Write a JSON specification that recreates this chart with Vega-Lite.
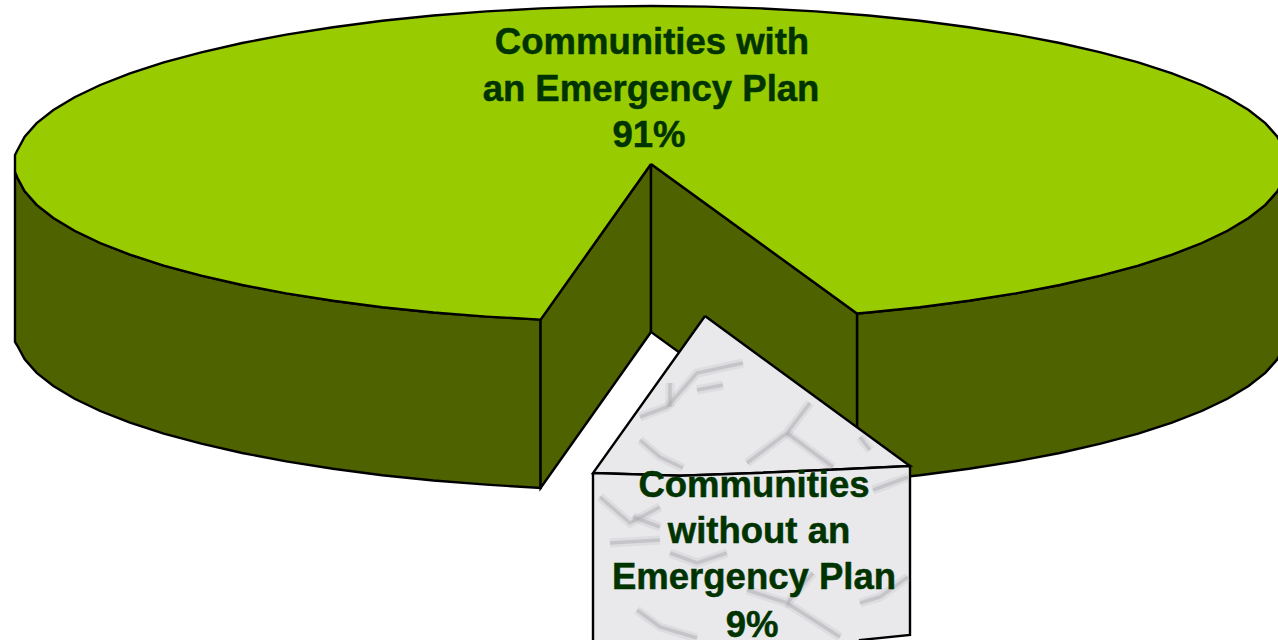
{"$schema":"https://vega.github.io/schema/vega-lite/v6.json","width":1278,"height":640,"padding":0,"autosize":{"type":"none"},"background":"white","view":{"stroke":null},
"datasets":{"shapes":[
{"part":"wallL","n":1,"x":15,"y":172},{"part":"wallL","n":2,"x":17.4,"y":177.8},{"part":"wallL","n":3,"x":24.7,"y":191.4},{"part":"wallL","n":4,"x":36.7,"y":204.9},{"part":"wallL","n":5,"x":53.4,"y":218},{"part":"wallL","n":6,"x":74.6,"y":230.8},{"part":"wallL","n":7,"x":100.2,"y":243},{"part":"wallL","n":8,"x":130,"y":254.6},{"part":"wallL","n":9,"x":163.8,"y":265.6},{"part":"wallL","n":10,"x":201.3,"y":275.7},{"part":"wallL","n":11,"x":242.2,"y":285},{"part":"wallL","n":12,"x":286.2,"y":293.4},{"part":"wallL","n":13,"x":333,"y":300.8},{"part":"wallL","n":14,"x":382.2,"y":307.2},{"part":"wallL","n":15,"x":433.5,"y":312.5},{"part":"wallL","n":16,"x":486.4,"y":316.6},{"part":"wallL","n":17,"x":540.6,"y":319.6},{"part":"wallL","n":18,"x":540.6,"y":488},{"part":"wallL","n":19,"x":486.4,"y":484.6},{"part":"wallL","n":20,"x":433.5,"y":480.5},{"part":"wallL","n":21,"x":382.2,"y":475.2},{"part":"wallL","n":22,"x":333,"y":468.8},{"part":"wallL","n":23,"x":286.2,"y":461.4},{"part":"wallL","n":24,"x":242.2,"y":453},{"part":"wallL","n":25,"x":201.3,"y":443.7},{"part":"wallL","n":26,"x":163.8,"y":433.6},{"part":"wallL","n":27,"x":130,"y":422.6},{"part":"wallL","n":28,"x":100.2,"y":411},{"part":"wallL","n":29,"x":74.6,"y":398.8},{"part":"wallL","n":30,"x":53.4,"y":386},{"part":"wallL","n":31,"x":36.7,"y":372.9},{"part":"wallL","n":32,"x":24.7,"y":359.4},{"part":"wallL","n":33,"x":17.4,"y":345.8},{"part":"wallL","n":34,"x":15,"y":342},{"part":"wallL","n":35,"x":15,"y":172},
{"part":"wallR","n":1,"x":857,"y":313.5},{"part":"wallR","n":2,"x":868.5,"y":312.5},{"part":"wallR","n":3,"x":919.8,"y":307.2},{"part":"wallR","n":4,"x":969,"y":300.8},{"part":"wallR","n":5,"x":1015.8,"y":293.4},{"part":"wallR","n":6,"x":1059.8,"y":285},{"part":"wallR","n":7,"x":1100.7,"y":275.7},{"part":"wallR","n":8,"x":1138.2,"y":265.6},{"part":"wallR","n":9,"x":1172,"y":254.6},{"part":"wallR","n":10,"x":1201.8,"y":243},{"part":"wallR","n":11,"x":1227.4,"y":230.8},{"part":"wallR","n":12,"x":1248.6,"y":218},{"part":"wallR","n":13,"x":1265.3,"y":204.9},{"part":"wallR","n":14,"x":1277.3,"y":191.4},{"part":"wallR","n":15,"x":1284.6,"y":177.8},{"part":"wallR","n":16,"x":1287,"y":164},{"part":"wallR","n":17,"x":1287,"y":332},{"part":"wallR","n":18,"x":1284.6,"y":345.8},{"part":"wallR","n":19,"x":1277.3,"y":359.4},{"part":"wallR","n":20,"x":1265.3,"y":372.9},{"part":"wallR","n":21,"x":1248.6,"y":386},{"part":"wallR","n":22,"x":1227.4,"y":398.8},{"part":"wallR","n":23,"x":1201.8,"y":411},{"part":"wallR","n":24,"x":1172,"y":422.6},{"part":"wallR","n":25,"x":1138.2,"y":433.6},{"part":"wallR","n":26,"x":1100.7,"y":443.7},{"part":"wallR","n":27,"x":1059.8,"y":453},{"part":"wallR","n":28,"x":1015.8,"y":461.4},{"part":"wallR","n":29,"x":969,"y":468.8},{"part":"wallR","n":30,"x":919.8,"y":475.2},{"part":"wallR","n":31,"x":868.5,"y":480.5},{"part":"wallR","n":32,"x":857,"y":481.5},{"part":"wallR","n":33,"x":857,"y":313.5},
{"part":"innerL","n":1,"x":651,"y":164},{"part":"innerL","n":2,"x":540.6,"y":319.6},{"part":"innerL","n":3,"x":540.6,"y":488},{"part":"innerL","n":4,"x":651,"y":332},{"part":"innerL","n":5,"x":651,"y":164},
{"part":"innerR","n":1,"x":651,"y":164},{"part":"innerR","n":2,"x":857,"y":313.5},{"part":"innerR","n":3,"x":857,"y":481.5},{"part":"innerR","n":4,"x":651,"y":332},{"part":"innerR","n":5,"x":651,"y":164},
{"part":"top","n":1,"x":651,"y":164},{"part":"top","n":2,"x":857,"y":313.5},{"part":"top","n":3,"x":868.5,"y":312.5},{"part":"top","n":4,"x":919.8,"y":307.2},{"part":"top","n":5,"x":969,"y":300.8},{"part":"top","n":6,"x":1015.8,"y":293.4},{"part":"top","n":7,"x":1059.8,"y":285},{"part":"top","n":8,"x":1100.7,"y":275.7},{"part":"top","n":9,"x":1138.2,"y":265.6},{"part":"top","n":10,"x":1172,"y":254.6},{"part":"top","n":11,"x":1201.8,"y":243},{"part":"top","n":12,"x":1227.4,"y":230.8},{"part":"top","n":13,"x":1248.6,"y":218},{"part":"top","n":14,"x":1265.3,"y":204.9},{"part":"top","n":15,"x":1277.3,"y":191.4},{"part":"top","n":16,"x":1284.6,"y":177.8},{"part":"top","n":17,"x":1287,"y":164},{"part":"top","n":18,"x":1284.6,"y":150.2},{"part":"top","n":19,"x":1277.3,"y":136.6},{"part":"top","n":20,"x":1265.3,"y":123.1},{"part":"top","n":21,"x":1248.6,"y":110},{"part":"top","n":22,"x":1227.4,"y":97.2},{"part":"top","n":23,"x":1201.8,"y":85},{"part":"top","n":24,"x":1172,"y":73.4},{"part":"top","n":25,"x":1138.2,"y":62.4},{"part":"top","n":26,"x":1100.7,"y":52.3},{"part":"top","n":27,"x":1059.8,"y":43},{"part":"top","n":28,"x":1015.8,"y":34.6},{"part":"top","n":29,"x":969,"y":27.2},{"part":"top","n":30,"x":919.8,"y":20.8},{"part":"top","n":31,"x":868.5,"y":15.5},{"part":"top","n":32,"x":815.6,"y":11.4},{"part":"top","n":33,"x":761.4,"y":8.4},{"part":"top","n":34,"x":706.5,"y":6.6},{"part":"top","n":35,"x":651,"y":6},{"part":"top","n":36,"x":595.5,"y":6.6},{"part":"top","n":37,"x":540.6,"y":8.4},{"part":"top","n":38,"x":486.4,"y":11.4},{"part":"top","n":39,"x":433.5,"y":15.5},{"part":"top","n":40,"x":382.2,"y":20.8},{"part":"top","n":41,"x":333,"y":27.2},{"part":"top","n":42,"x":286.2,"y":34.6},{"part":"top","n":43,"x":242.2,"y":43},{"part":"top","n":44,"x":201.3,"y":52.3},{"part":"top","n":45,"x":163.8,"y":62.4},{"part":"top","n":46,"x":130,"y":73.4},{"part":"top","n":47,"x":100.2,"y":85},{"part":"top","n":48,"x":74.6,"y":97.2},{"part":"top","n":49,"x":53.4,"y":110},{"part":"top","n":50,"x":36.7,"y":123.1},{"part":"top","n":51,"x":24.7,"y":136.6},{"part":"top","n":52,"x":17.4,"y":150.2},{"part":"top","n":53,"x":15,"y":155},{"part":"top","n":54,"x":15,"y":172},{"part":"top","n":55,"x":17.4,"y":177.8},{"part":"top","n":56,"x":24.7,"y":191.4},{"part":"top","n":57,"x":36.7,"y":204.9},{"part":"top","n":58,"x":53.4,"y":218},{"part":"top","n":59,"x":74.6,"y":230.8},{"part":"top","n":60,"x":100.2,"y":243},{"part":"top","n":61,"x":130,"y":254.6},{"part":"top","n":62,"x":163.8,"y":265.6},{"part":"top","n":63,"x":201.3,"y":275.7},{"part":"top","n":64,"x":242.2,"y":285},{"part":"top","n":65,"x":286.2,"y":293.4},{"part":"top","n":66,"x":333,"y":300.8},{"part":"top","n":67,"x":382.2,"y":307.2},{"part":"top","n":68,"x":433.5,"y":312.5},{"part":"top","n":69,"x":486.4,"y":316.6},{"part":"top","n":70,"x":540.6,"y":319.6},{"part":"top","n":71,"x":651,"y":164},
{"part":"marbleTop","n":1,"x":705,"y":316},{"part":"marbleTop","n":2,"x":910,"y":466},{"part":"marbleTop","n":3,"x":847,"y":469},{"part":"marbleTop","n":4,"x":757,"y":473},{"part":"marbleTop","n":5,"x":680,"y":475.7},{"part":"marbleTop","n":6,"x":593,"y":473},{"part":"marbleTop","n":7,"x":705,"y":316},
{"part":"marbleFront","n":1,"x":593,"y":473},{"part":"marbleFront","n":2,"x":680,"y":475.7},{"part":"marbleFront","n":3,"x":757,"y":473},{"part":"marbleFront","n":4,"x":847,"y":469},{"part":"marbleFront","n":5,"x":910,"y":466},{"part":"marbleFront","n":6,"x":910,"y":635},{"part":"marbleFront","n":7,"x":860,"y":640},{"part":"marbleFront","n":8,"x":860,"y":645},{"part":"marbleFront","n":9,"x":593,"y":645},{"part":"marbleFront","n":10,"x":593,"y":473}
],
"veins":[
{"vein":"a","n":1,"x":640,"y":417},{"vein":"a","n":2,"x":667,"y":407},{"vein":"a","n":3,"x":697,"y":373},{"vein":"a","n":4,"x":743,"y":363},
{"vein":"b","n":1,"x":670,"y":383},{"vein":"b","n":2,"x":670,"y":407},
{"vein":"c","n":1,"x":697,"y":390},{"vein":"c","n":2,"x":723,"y":385},
{"vein":"d","n":1,"x":640,"y":440},{"vein":"d","n":2,"x":660,"y":457},{"vein":"d","n":3,"x":683,"y":468},
{"vein":"e","n":1,"x":747,"y":463},{"vein":"e","n":2,"x":787,"y":433},{"vein":"e","n":3,"x":810,"y":403},
{"vein":"f","n":1,"x":787,"y":433},{"vein":"f","n":2,"x":833,"y":467},
{"vein":"g","n":1,"x":860,"y":437},{"vein":"g","n":2,"x":870,"y":450},
{"vein":"h","n":1,"x":600,"y":497},{"vein":"h","n":2,"x":630,"y":523},{"vein":"h","n":3,"x":660,"y":507},
{"vein":"i","n":1,"x":633,"y":517},{"vein":"i","n":2,"x":660,"y":527},
{"vein":"j","n":1,"x":610,"y":543},{"vein":"j","n":2,"x":660,"y":540},
{"vein":"k","n":1,"x":670,"y":553},{"vein":"k","n":2,"x":697,"y":563},{"vein":"k","n":3,"x":727,"y":553},
{"vein":"l","n":1,"x":637,"y":610},{"vein":"l","n":2,"x":660,"y":627},{"vein":"l","n":3,"x":697,"y":638},
{"vein":"m","n":1,"x":747,"y":590},{"vein":"m","n":2,"x":787,"y":603},{"vein":"m","n":3,"x":813,"y":573},
{"vein":"n","n":1,"x":787,"y":603},{"vein":"n","n":2,"x":840,"y":637},
{"vein":"o","n":1,"x":860,"y":603},{"vein":"o","n":2,"x":880,"y":597},{"vein":"o","n":3,"x":908,"y":577},
{"vein":"p","n":1,"x":873,"y":490},{"vein":"p","n":2,"x":908,"y":477}
],
"labels":[
{"label":"Communities with","x":652,"y":54},{"label":"an Emergency Plan","x":651,"y":101},{"label":"91%","x":649,"y":147},
{"label":"Communities","x":754,"y":497},{"label":"without an","x":759,"y":543},{"label":"Emergency Plan","x":754,"y":589},{"label":"9%","x":752,"y":637}
]},
"layer":[
{"data":{"name":"shapes"},"mark":{"type":"line","filled":true,"stroke":"#000000","strokeWidth":2.4,"clip":true,"interpolate":"linear"},
"encoding":{"x":{"field":"x","type":"quantitative","scale":{"domain":[0,1278],"nice":false,"zero":false},"axis":null},"y":{"field":"y","type":"quantitative","scale":{"domain":[640,0],"nice":false,"zero":false},"axis":null},"order":{"field":"n","type":"quantitative"},"detail":{"field":"part","type":"nominal"},"fill":{"field":"part","type":"nominal","legend":null,"sort":null,"scale":{"domain":["wallL","wallR","innerL","innerR","top","marbleTop","marbleFront"],"range":["#4F6200","#4F6200","#4F6200","#4F6200","#99CC00","#E9E9EC","#E9E9EC"]}}}},
{"data":{"name":"veins"},"mark":{"type":"line","stroke":"#a8a8ac","strokeWidth":9,"opacity":0.18,"clip":true},
"encoding":{"x":{"field":"x","type":"quantitative","scale":{"domain":[0,1278],"nice":false,"zero":false},"axis":null},"y":{"field":"y","type":"quantitative","scale":{"domain":[640,0],"nice":false,"zero":false},"axis":null},"order":{"field":"n","type":"quantitative"},"detail":{"field":"vein","type":"nominal"}}},
{"data":{"name":"veins"},"mark":{"type":"line","stroke":"#a8a8ac","strokeWidth":3.5,"opacity":0.45,"clip":true},
"encoding":{"x":{"field":"x","type":"quantitative","scale":{"domain":[0,1278],"nice":false,"zero":false},"axis":null},"y":{"field":"y","type":"quantitative","scale":{"domain":[640,0],"nice":false,"zero":false},"axis":null},"order":{"field":"n","type":"quantitative"},"detail":{"field":"vein","type":"nominal"}}},
{"data":{"name":"labels"},"mark":{"type":"text","font":"Liberation Sans","fontWeight":"bold","fontSize":36.5,"fill":"#003300","stroke":"#003300","strokeWidth":0.5,"align":"center","baseline":"alphabetic"},
"encoding":{"x":{"field":"x","type":"quantitative","scale":{"domain":[0,1278],"nice":false,"zero":false},"axis":null},"y":{"field":"y","type":"quantitative","scale":{"domain":[640,0],"nice":false,"zero":false},"axis":null},"text":{"field":"label","type":"nominal"}}}
]}
